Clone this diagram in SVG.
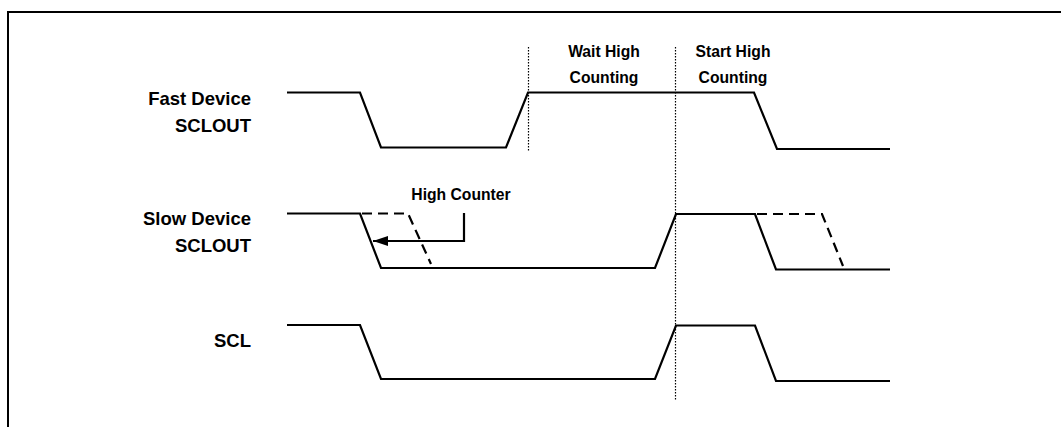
<svg xmlns="http://www.w3.org/2000/svg" width="1061" height="427" viewBox="0 0 1061 427">
<style>
.sig{fill:none;stroke:#000;stroke-width:2.2;stroke-linejoin:miter}
.dash{fill:none;stroke:#000;stroke-width:2.2;stroke-dasharray:10 6}
.dot{fill:none;stroke:#000;stroke-width:1.2;stroke-dasharray:1.5 1.5}
.lbl{font-family:"Liberation Sans",Arial,sans-serif;font-weight:bold;font-size:18.5px;fill:#000;text-anchor:end}
.ann{font-family:"Liberation Sans",Arial,sans-serif;font-weight:bold;font-size:15.7px;fill:#000;text-anchor:middle}
</style>
<defs>
<marker id="ah" markerWidth="15" markerHeight="10" refX="15" refY="5" orient="auto" markerUnits="userSpaceOnUse">
<path d="M0,0 L15,5 L0,10 Z" fill="#000"/>
</marker>
</defs>
<rect x="0" y="0" width="1061" height="427" fill="#fff"/>
<path d="M8,440 V12 H1070" fill="none" stroke="#000" stroke-width="2"/>
<g id="labels">
<text class="lbl" x="251" y="105">Fast Device</text>
<text class="lbl" x="251" y="131.5">SCLOUT</text>
<text class="lbl" x="251" y="225">Slow Device</text>
<text class="lbl" x="251" y="252">SCLOUT</text>
<text class="lbl" x="251" y="347">SCL</text>
</g>
<g id="annotations">
<text class="ann" x="604" y="57">Wait High</text>
<text class="ann" x="604" y="83">Counting</text>
<text class="ann" x="733" y="57">Start High</text>
<text class="ann" x="733" y="83">Counting</text>
<text class="ann" x="461" y="200">High Counter</text>
</g>
<g id="markers">
<line class="dot" x1="528.5" y1="47" x2="528.5" y2="152"/>
<line class="dot" x1="675.5" y1="47" x2="675.5" y2="400"/>
</g>
<g id="fast-sclout">
<polyline class="sig" points="287,92.5 360,92.5 381,147.5 506,147.5 528,92.5 754,92.5 777,149 890,149"/>
</g>
<g id="slow-sclout">
<polyline class="sig" points="287,213.5 360,213.5 381,268 655,268 676,214 755,214 776,269.5 890,269.5"/>
<polyline class="dash" points="362,213.5 408,213.5 431,264"/>
<polyline class="dash" points="757,214 822,214 843,266"/>
</g>
<g id="scl">
<polyline class="sig" points="287,325 360,325 381,379 655,379 676,325.5 755,325.5 776,381 890,381"/>
</g>
<g id="connectors">
<polyline class="sig" points="464,213 464,241 373,241" marker-end="url(#ah)"/>
</g>
</svg>
